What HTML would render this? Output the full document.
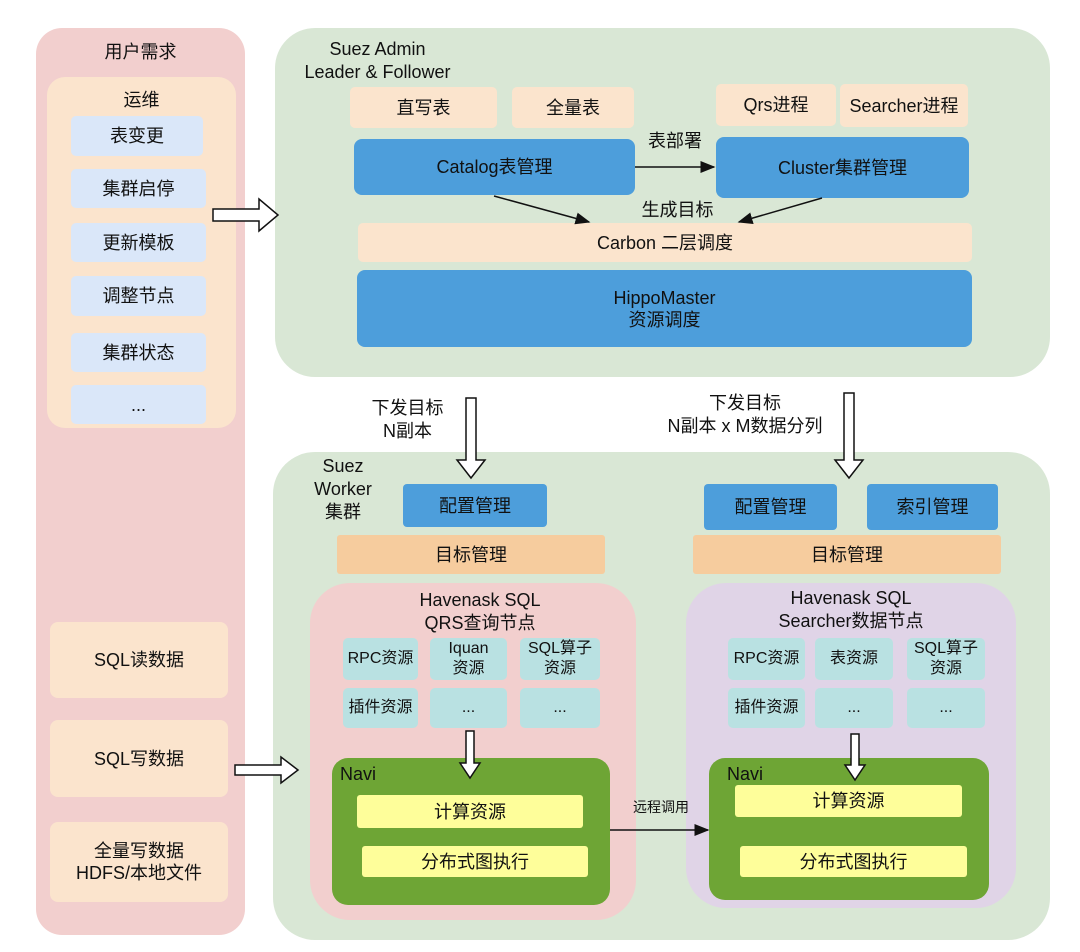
<!DOCTYPE html>
<html><head><meta charset="utf-8"><style>
body{margin:0;width:1080px;height:952px;background:#fff;position:relative;overflow:hidden;font-family:"Liberation Sans","Noto Sans CJK SC",sans-serif;color:#111}
.b{position:absolute;display:flex;align-items:center;justify-content:center;text-align:center;font-size:18px;line-height:22px;box-sizing:border-box}
.t{position:absolute;font-size:18px;line-height:23px;text-align:center;white-space:nowrap}
.pk{background:#f2cfce}.gr{background:#d9e7d5}.pe{background:#fbe4cd}.lb{background:#dae7f9}.bl{background:#4d9edb}.or{background:#f6cc9e}.tl{background:#b9e1e2}.pu{background:#e0d4e7}.nv{background:#6ea535}.ye{background:#fefe9a}
svg{position:absolute;left:0;top:0}
</style></head><body>
<div class="b pk" style="left:36px;top:28px;width:209px;height:907px;border-radius:26px"></div>
<div class="t" style="left:36px;top:41px;width:209px">用户需求</div>
<div class="b pe" style="left:47px;top:77px;width:189px;height:351px;border-radius:18px"></div>
<div class="t" style="left:47px;top:89px;width:189px">运维</div>
<div class="b lb" style="left:71px;top:116px;width:132px;height:40px;border-radius:5px">表变更</div>
<div class="b lb" style="left:71px;top:169px;width:135px;height:39px;border-radius:5px">集群启停</div>
<div class="b lb" style="left:71px;top:223px;width:135px;height:39px;border-radius:5px">更新模板</div>
<div class="b lb" style="left:71px;top:276px;width:135px;height:40px;border-radius:5px">调整节点</div>
<div class="b lb" style="left:71px;top:333px;width:135px;height:39px;border-radius:5px">集群状态</div>
<div class="b lb" style="left:71px;top:385px;width:135px;height:39px;border-radius:5px">...</div>
<div class="b pe" style="left:50px;top:622px;width:178px;height:76px;border-radius:8px">SQL读数据</div>
<div class="b pe" style="left:50px;top:720px;width:178px;height:77px;border-radius:8px">SQL写数据</div>
<div class="b pe" style="left:50px;top:822px;width:178px;height:80px;border-radius:8px">全量写数据<br>HDFS/本地文件</div>

<div class="b gr" style="left:275px;top:28px;width:775px;height:349px;border-radius:40px"></div>
<div class="t" style="left:290px;top:38px;width:175px">Suez Admin<br>Leader &amp; Follower</div>
<div class="b pe" style="left:350px;top:87px;width:147px;height:41px;border-radius:5px">直写表</div>
<div class="b pe" style="left:512px;top:87px;width:122px;height:41px;border-radius:5px">全量表</div>
<div class="b pe" style="left:716px;top:84px;width:120px;height:42px;border-radius:5px">Qrs进程</div>
<div class="b pe" style="left:840px;top:84px;width:128px;height:43px;border-radius:5px">Searcher进程</div>
<div class="b bl" style="left:354px;top:139px;width:281px;height:56px;border-radius:8px">Catalog表管理</div>
<div class="b bl" style="left:716px;top:137px;width:253px;height:61px;border-radius:8px">Cluster集群管理</div>
<div class="t" style="left:640px;top:130px;width:70px">表部署</div>
<div class="t" style="left:630px;top:199px;width:95px">生成目标</div>
<div class="b pe" style="left:358px;top:223px;width:614px;height:39px;border-radius:5px">Carbon 二层调度</div>
<div class="b bl" style="left:357px;top:270px;width:615px;height:77px;border-radius:8px">HippoMaster<br>资源调度</div>

<div class="t" style="left:360px;top:397px;width:95px">下发目标<br>N副本</div>
<div class="t" style="left:650px;top:392px;width:190px">下发目标<br>N副本 x M数据分列</div>

<div class="b gr" style="left:273px;top:452px;width:777px;height:488px;border-radius:42px"></div>
<div class="t" style="left:305px;top:455px;width:76px;line-height:23px">Suez<br>Worker<br>集群</div>
<div class="b bl" style="left:403px;top:484px;width:144px;height:43px;border-radius:4px">配置管理</div>
<div class="b or" style="left:337px;top:535px;width:268px;height:39px;border-radius:3px">目标管理</div>
<div class="b bl" style="left:704px;top:484px;width:133px;height:46px;border-radius:4px">配置管理</div>
<div class="b bl" style="left:867px;top:484px;width:131px;height:46px;border-radius:4px">索引管理</div>
<div class="b or" style="left:693px;top:535px;width:308px;height:39px;border-radius:3px">目标管理</div>

<div class="b pk" style="left:310px;top:583px;width:326px;height:337px;border-radius:40px"></div>
<div class="t" style="left:310px;top:589px;width:340px">Havenask SQL<br>QRS查询节点</div>
<div class="b tl" style="left:343px;top:638px;width:75px;height:42px;border-radius:5px;font-size:16px">RPC资源</div>
<div class="b tl" style="left:430px;top:638px;width:77px;height:42px;border-radius:5px;font-size:16px;line-height:20px">Iquan<br>资源</div>
<div class="b tl" style="left:520px;top:638px;width:80px;height:42px;border-radius:5px;font-size:16px;line-height:20px">SQL算子<br>资源</div>
<div class="b tl" style="left:343px;top:688px;width:75px;height:40px;border-radius:5px;font-size:16px">插件资源</div>
<div class="b tl" style="left:430px;top:688px;width:77px;height:40px;border-radius:5px;font-size:16px">...</div>
<div class="b tl" style="left:520px;top:688px;width:80px;height:40px;border-radius:5px;font-size:16px">...</div>
<div class="b nv" style="left:332px;top:758px;width:278px;height:147px;border-radius:16px"></div>
<div class="t" style="left:340px;top:763px">Navi</div>
<div class="b ye" style="left:357px;top:795px;width:226px;height:33px;border-radius:3px">计算资源</div>
<div class="b ye" style="left:362px;top:846px;width:226px;height:31px;border-radius:3px">分布式图执行</div>

<div class="b pu" style="left:686px;top:583px;width:330px;height:325px;border-radius:40px"></div>
<div class="t" style="left:686px;top:587px;width:330px">Havenask SQL<br>Searcher数据节点</div>
<div class="b tl" style="left:728px;top:638px;width:77px;height:42px;border-radius:5px;font-size:16px">RPC资源</div>
<div class="b tl" style="left:815px;top:638px;width:78px;height:42px;border-radius:5px;font-size:16px">表资源</div>
<div class="b tl" style="left:907px;top:638px;width:78px;height:42px;border-radius:5px;font-size:16px;line-height:20px">SQL算子<br>资源</div>
<div class="b tl" style="left:728px;top:688px;width:77px;height:40px;border-radius:5px;font-size:16px">插件资源</div>
<div class="b tl" style="left:815px;top:688px;width:78px;height:40px;border-radius:5px;font-size:16px">...</div>
<div class="b tl" style="left:907px;top:688px;width:78px;height:40px;border-radius:5px;font-size:16px">...</div>
<div class="b nv" style="left:709px;top:758px;width:280px;height:142px;border-radius:16px"></div>
<div class="t" style="left:727px;top:763px">Navi</div>
<div class="b ye" style="left:735px;top:785px;width:227px;height:32px;border-radius:3px">计算资源</div>
<div class="b ye" style="left:740px;top:846px;width:227px;height:31px;border-radius:3px">分布式图执行</div>
<div class="t" style="left:626px;top:796px;width:70px;font-size:14px">远程调用</div>

<svg width="1080" height="952">
<defs><marker id="a" markerWidth="10" markerHeight="8" refX="9" refY="4" orient="auto"><path d="M0,0L10,4L0,8z" fill="#111"/></marker></defs>
<g fill="#fff" stroke="#111" stroke-width="1.5">
<path d="M213,209H259V199L278,215L259,231V221H213Z"/>
<path d="M235,765H281V757L298,770L281,783V775H235Z"/>
<path d="M466,398H476V460H485L471,478L457,460H466Z"/>
<path d="M844,393H854V460H863L849,478L835,460H844Z"/>
<path d="M466,731H474V763H480L470,778L460,763H466Z"/>
<path d="M851,734H859V765H865L855,780L845,765H851Z"/>
</g>
<g stroke="#111" stroke-width="1.5" fill="none" marker-end="url(#a)">
<line x1="635" y1="167" x2="714" y2="167"/>
<line x1="494" y1="196" x2="589" y2="222"/>
<line x1="822" y1="198" x2="739" y2="222"/>
<line x1="610" y1="830" x2="708" y2="830"/>
</g>
</svg>
</body></html>
